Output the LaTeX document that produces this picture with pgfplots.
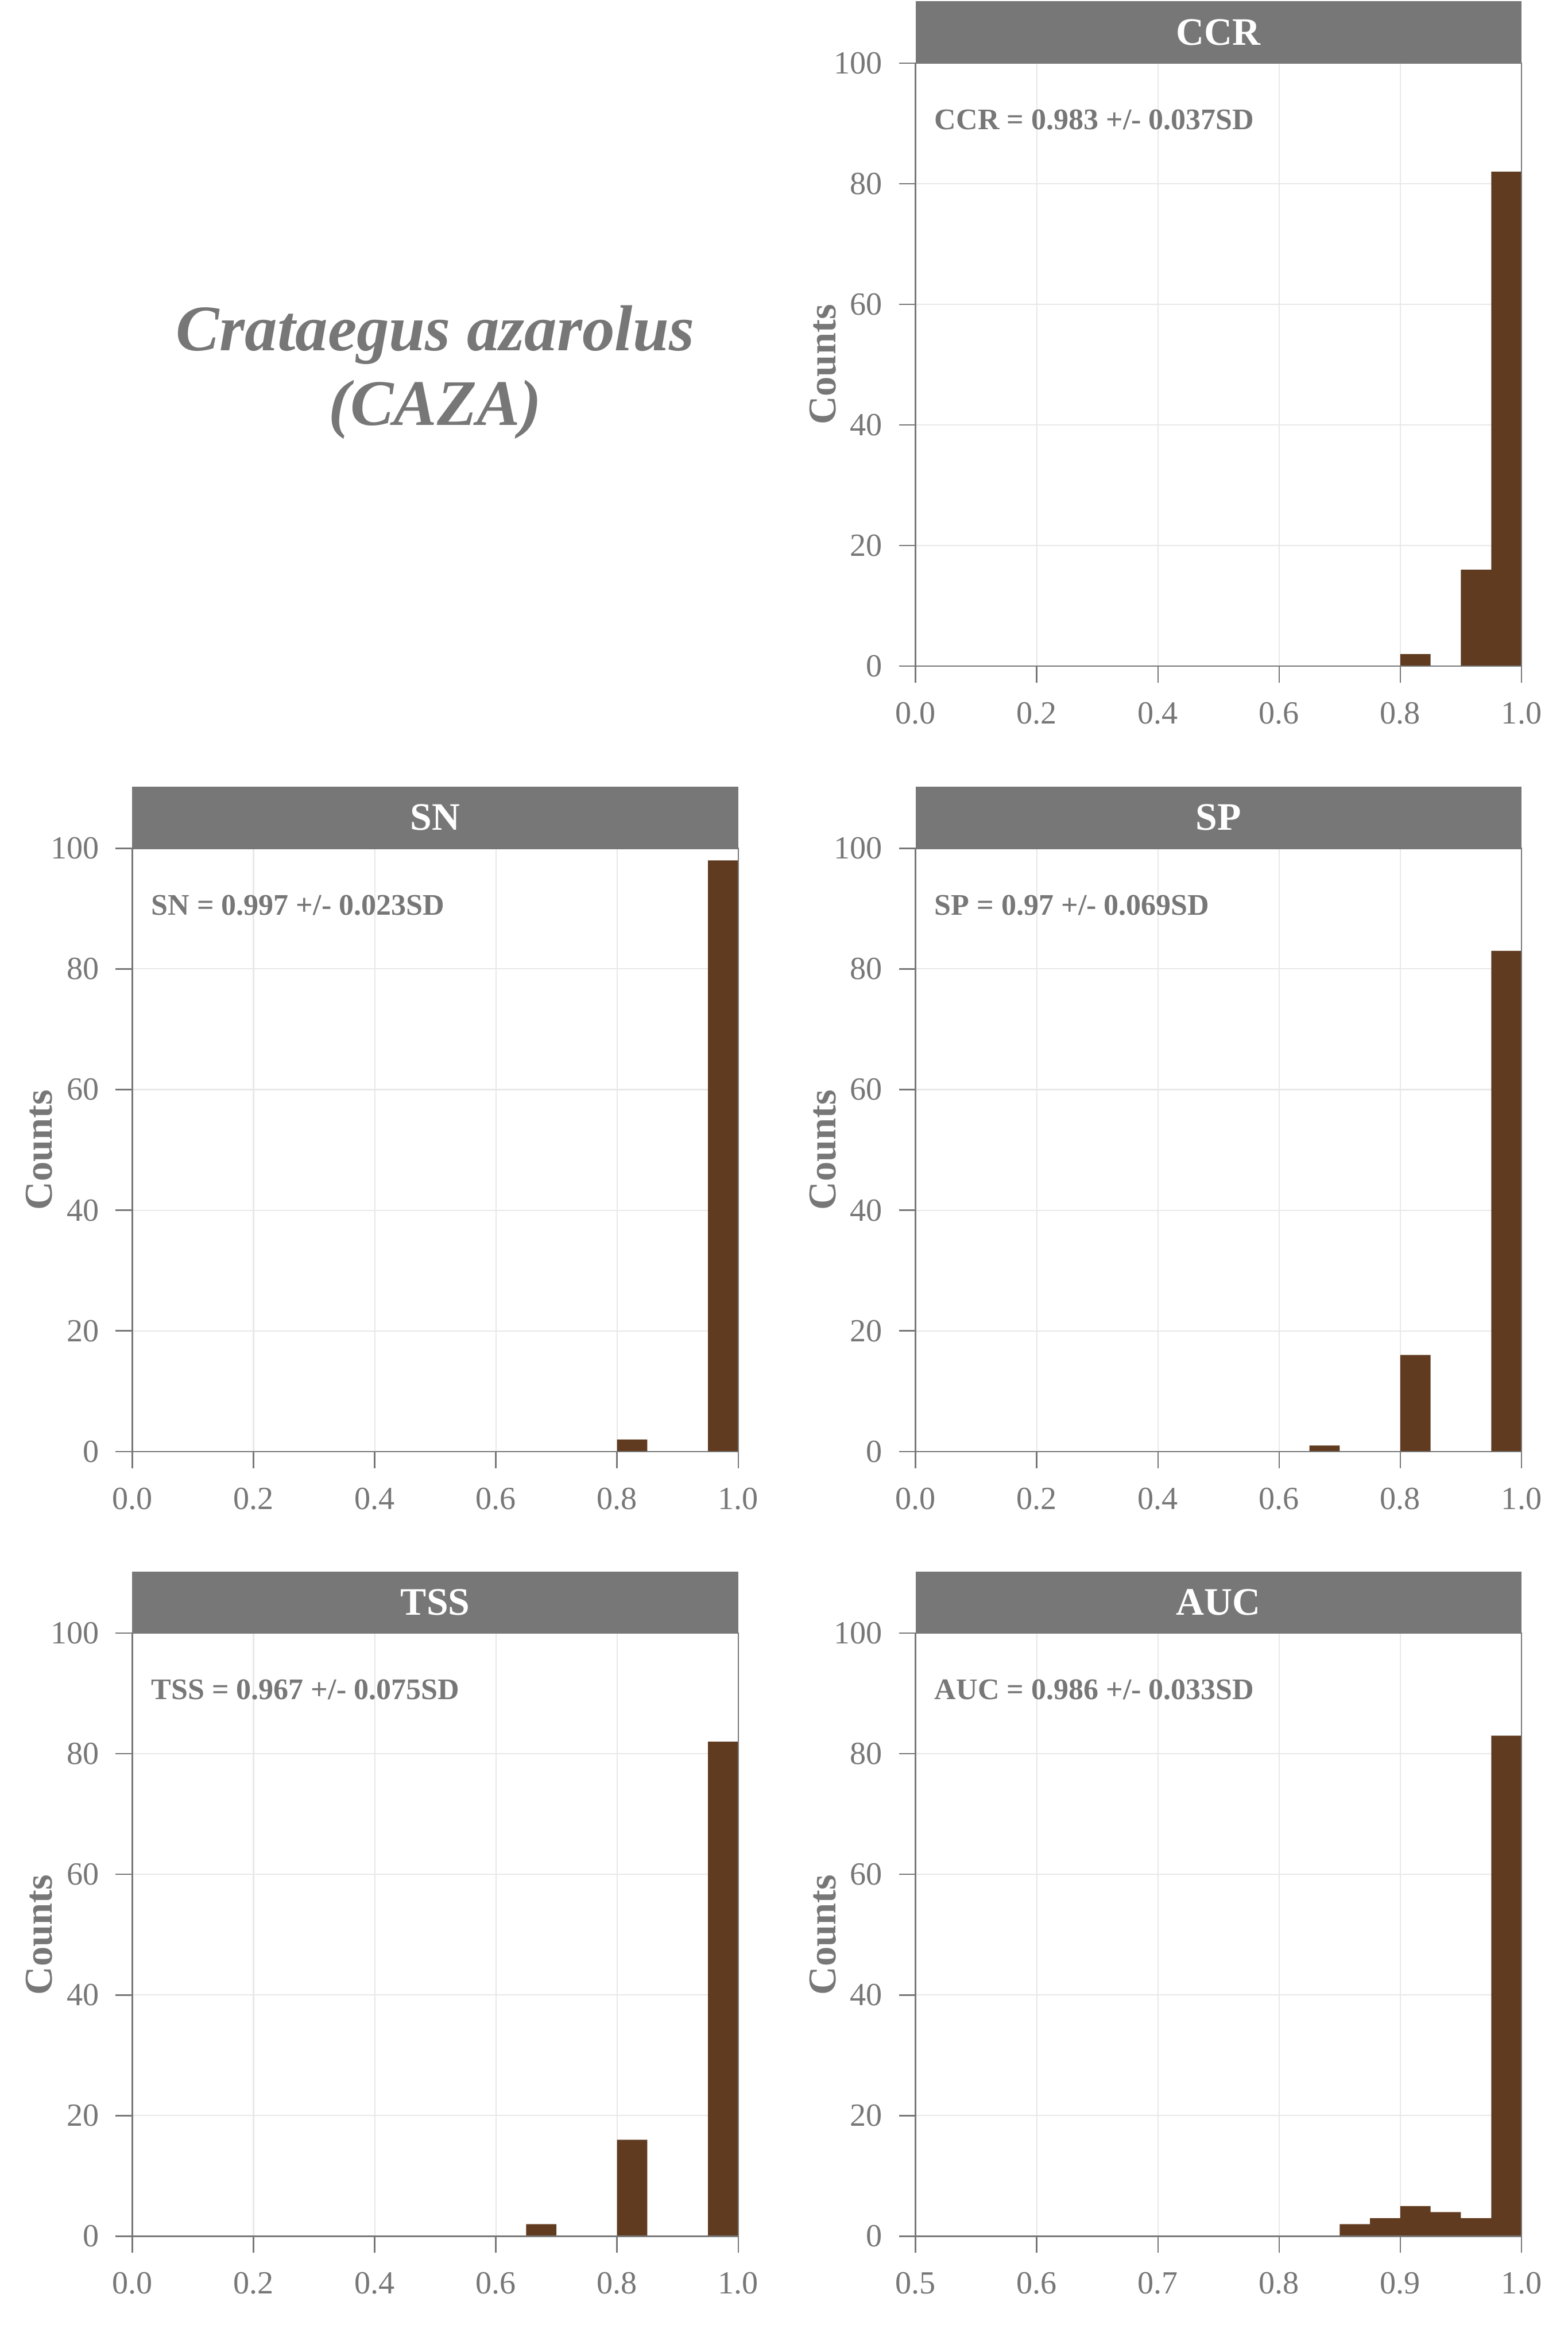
\documentclass[border=0pt]{standalone}
\usepackage{fontspec}
\setmainfont{Liberation Serif}
\usepackage{pgfplots}
\pgfplotsset{compat=1.18}
\definecolor{txt}{HTML}{777777}
\definecolor{stripc}{HTML}{777777}
\definecolor{barc}{HTML}{603B20}
\definecolor{gridc}{HTML}{E8E8E8}
\pgfplotsset{hist/.style={
  width=127.8pt, height=127.2pt, scale only axis,
  xmin=0,xmax=1,ymin=0,ymax=100,
  xtick={0,0.2,0.4,0.6,0.8,1.0},
  xticklabels={0.0,0.2,0.4,0.6,0.8,1.0},
  ytick={0,20,40,60,80,100},
  yticklabels={0,20,40,60,80,100},
  /pgf/number format/assume math mode=true,
  xtick pos=bottom, ytick pos=left,
  tick align=outside, major tick length=3.5pt,
  tick style={txt, line width=0.3pt},
  axis line style={txt, line width=0.3pt},
  xmajorgrids, ymajorgrids, major grid style={gridc, line width=0.25pt},
  every tick label/.append style={font=\fontsize{6.8}{7}\selectfont, text=txt},
  xticklabel style={yshift=-0.6pt},
  ylabel={Counts},
  ylabel style={font=\bfseries\fontsize{8.3}{9}\selectfont, text=txt, at={(axis description cs:-0.1534,0.5)}, anchor=center},
  clip=false,
}}
\newcommand{\boxlines}{\draw[txt, line width=0.3pt] (rel axis cs:0,0) -- (rel axis cs:1,0) -- (rel axis cs:1,1);}
\newcommand{\annot}[1]{\node[anchor=west, font=\bfseries\fontsize{6.3}{7}\selectfont, text=txt, inner sep=0pt] at (rel axis cs:0.03,0.906) {#1};}
\newcommand{\strip}[2]{\fill[stripc] (#1.north west) rectangle ([yshift=13pt]#1.north east);
  \node[text=white, font=\bfseries\fontsize{8.2}{9}\selectfont] at ([yshift=6.5pt]#1.north) {#2};}
\begin{document}
\begin{tikzpicture}
% CCR
\begin{axis}[hist, name=ccr, at={(193.1pt,355.5pt)}, anchor=south west]
\addplot[ybar interval, fill=barc, draw=none] coordinates {(0.8,2) (0.85,0) (0.9,16) (0.95,82) (1.0,82)};
\boxlines
\annot{CCR = 0.983 +/- 0.037SD}
\end{axis}
\strip{ccr}{CCR}
% SN
\begin{axis}[hist, name=sn, at={(27.9pt,189.9pt)}, anchor=south west]
\addplot[ybar interval, fill=barc, draw=none] coordinates {(0.8,2) (0.85,0) (0.95,98) (1.0,98)};
\boxlines
\annot{SN = 0.997 +/- 0.023SD}
\end{axis}
\strip{sn}{SN}
% SP
\begin{axis}[hist, name=sp, at={(193.1pt,189.9pt)}, anchor=south west]
\addplot[ybar interval, fill=barc, draw=none] coordinates {(0.65,1) (0.7,0) (0.8,16) (0.85,0) (0.95,83) (1.0,83)};
\boxlines
\annot{SP = 0.97 +/- 0.069SD}
\end{axis}
\strip{sp}{SP}
% TSS
\begin{axis}[hist, name=tss, at={(27.9pt,24.4pt)}, anchor=south west]
\addplot[ybar interval, fill=barc, draw=none] coordinates {(0.65,2) (0.7,0) (0.8,16) (0.85,0) (0.95,82) (1.0,82)};
\boxlines
\annot{TSS = 0.967 +/- 0.075SD}
\end{axis}
\strip{tss}{TSS}
% AUC
\begin{axis}[hist, name=auc, at={(193.1pt,24.4pt)}, anchor=south west,
  xmin=0.5, xmax=1, xtick={0.5,0.6,0.7,0.8,0.9,1.0}, xticklabels={0.5,0.6,0.7,0.8,0.9,1.0}]
\addplot[ybar interval, fill=barc, draw=none] coordinates {(0.85,2) (0.875,3) (0.9,5) (0.925,4) (0.95,3) (0.975,83) (1.0,83)};
\boxlines
\annot{AUC = 0.986 +/- 0.033SD}
\end{axis}
\strip{auc}{AUC}
% Title
\node[text=txt, font=\bfseries\itshape\fontsize{13.7}{16}\selectfont] at (91.8pt,425.4pt) {Crataegus azarolus};
\node[text=txt, font=\bfseries\itshape\fontsize{13.7}{16}\selectfont] at (91.8pt,409.6pt) {(CAZA)};
\pgfresetboundingbox
\useasboundingbox (0,0) rectangle (330.7pt,496pt);
\end{tikzpicture}
\end{document}
